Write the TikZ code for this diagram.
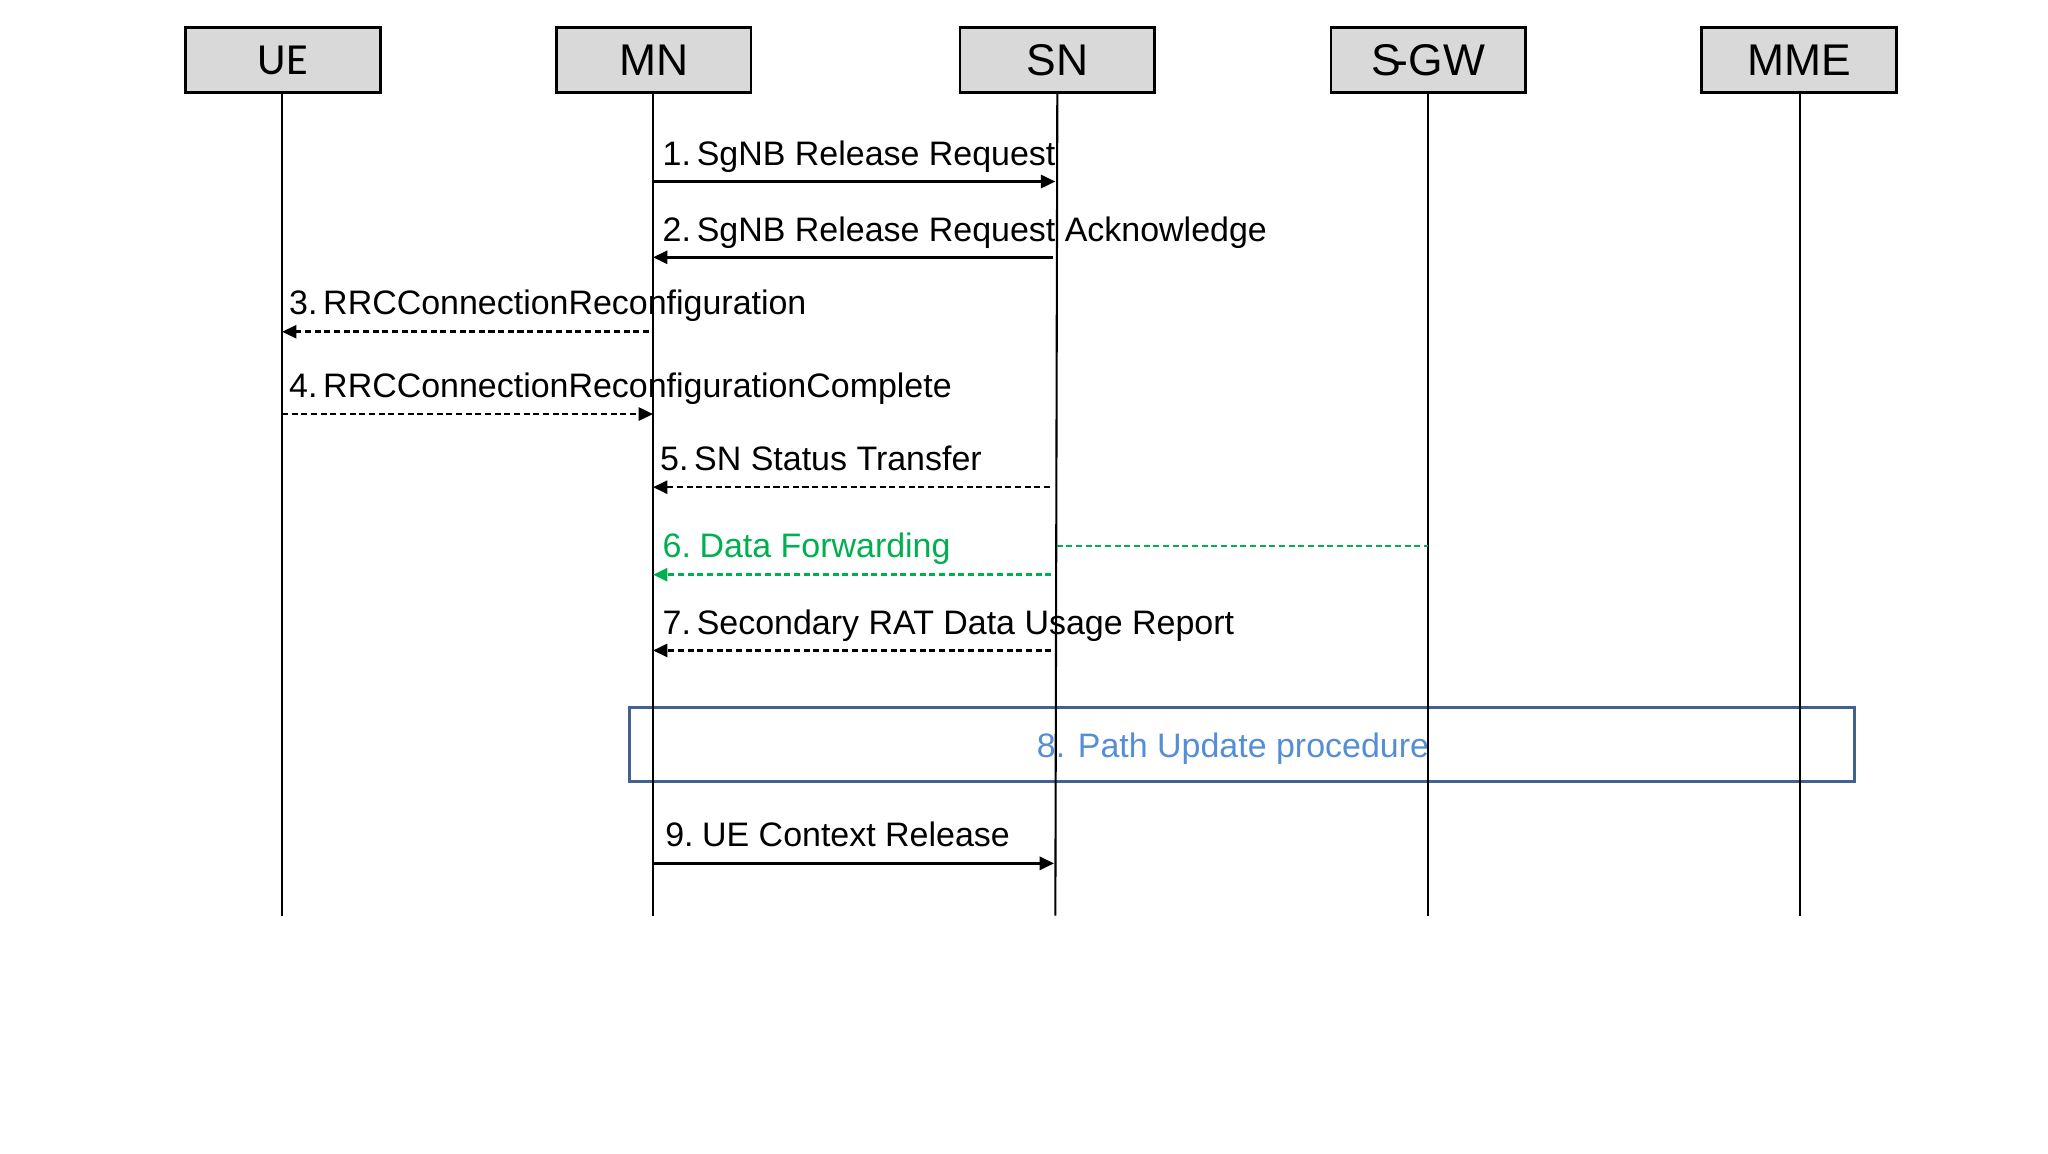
\documentclass[tikz,border=0pt]{standalone}
\usepackage{fontspec}
\setmainfont{Liberation Sans}
\newfontfamily\uefont{Carlito}
\usetikzlibrary{arrows.meta}
\definecolor{hdrgray}{HTML}{D9D9D9}
\definecolor{fwdgreen}{HTML}{00B050}
\definecolor{boxblue}{HTML}{41628F}
\definecolor{txtblue}{HTML}{558ED5}
\tikzset{
  entity/.style={draw=black, line width=1.1pt, fill=hdrgray, minimum width=74.5pt, minimum height=25pt, inner sep=0pt, font=\fontsize{17}{20}\selectfont},
  lifeline/.style={line width=0.8pt, black},
  msg/.style={line width=1pt, -{Triangle[length=5.5pt, width=5pt]}},
  dmsg/.style={msg, dash pattern=on 2.3pt off 1.4pt},
  lbl/.style={anchor=base west, inner sep=0pt, font=\fontsize{13}{15}\selectfont},
}
\begin{document}
\begin{tikzpicture}[x=0.5pt, y=-0.5pt]
\useasboundingbox (0,0) rectangle (1568,883.5);
% entities
\node[entity] (ue)  at (216.5,46) {\uefont UE};
\node[entity] (mn)  at (500.5,46) {MN};
\node[entity] (sn)  at (809.5,46) {SN};
\node[entity] (sgw) at (1093.5,46) {S\kern-0.16em-GW};
\node[entity] (mme) at (1377.5,46) {MME};
% lifeline ends
\coordinate (ueE)  at (216,701);
\coordinate (mnE)  at (500,701);
\coordinate (snE)  at (808,701);
\coordinate (sgwE) at (1093,701);
\coordinate (mmeE) at (1378,701);
% 8. path update box (drawn first so lifelines stay visible)
\node[draw=boxblue, line width=1.1pt, minimum width=469pt, minimum height=28pt, inner sep=0pt] (pu) at (951,570) {};
\node[text=txtblue, font=\fontsize{13}{15}\selectfont, inner sep=0pt] (putxt) at (944,573.5) {8. Path Update procedure};
\draw[lifeline] (ue.south -| ueE) -- (ueE);
\draw[lifeline] (mn.south -| mnE) -- (mnE);
\draw[lifeline] (sn.south) -- (snE);
\draw[lifeline] (sgw.south -| sgwE) -- (sgwE);
\draw[lifeline] (mme.south -| mmeE) -- (mmeE);
% messages
\draw[msg]  (mnE |- 0,139) -- (snE |- 0,139);
\node[lbl] (l1) at (507,127) {1.\kern0.17em SgNB Release Request};
\draw[msg]  (806,197) -- (mnE |- 0,197);
\node[lbl] (l2) at (507,185) {2.\kern0.17em SgNB Release Request Acknowledge};
\draw[dmsg] (497,254) -- (ueE |- 0,254);
\node[lbl] (l3) at (221,241) {3.\kern0.17em RRCConnectionReconfiguration};
\draw[dmsg] (ueE |- 0,317) -- (mnE |- 0,317);
\node[lbl] (l4) at (221,304) {4.\kern0.17em RRCConnectionReconfigurationComplete};
\draw[dmsg] (804,373) -- (mnE |- 0,373);
\node[lbl] (l5) at (505,360) {5.\kern0.17em SN Status Transfer};
\draw[line width=1pt, fwdgreen, dash pattern=on 2.3pt off 1.4pt] (809,418) -- (sgwE |- 0,418);
\draw[dmsg, fwdgreen] (805,440) -- (mnE |- 0,440);
\node[lbl, text=fwdgreen] (l6) at (507,427) {6.\kern0.25em Data Forwarding};
\draw[dmsg] (805,498) -- (mnE |- 0,498);
\node[lbl] (l7) at (507,486) {7.\kern0.17em Secondary RAT Data Usage Report};
\draw[msg]  (mnE |- 0,661) -- (807,661);
\node[lbl] (l9) at (509,648) {9.\kern0.25em UE Context Release};
\end{tikzpicture}
\end{document}
